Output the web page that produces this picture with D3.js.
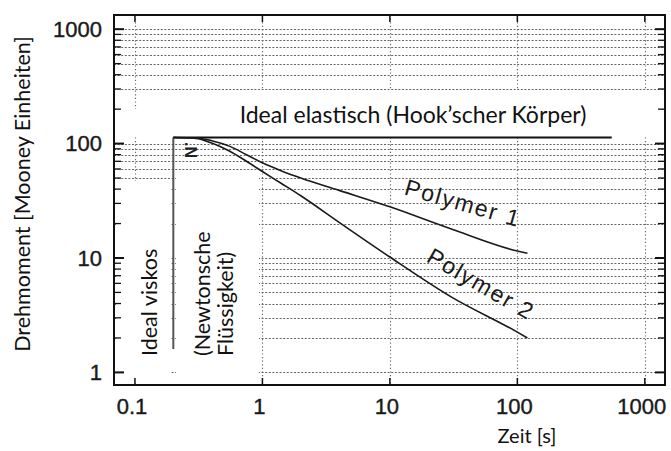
<!DOCTYPE html>
<html>
<head>
<meta charset="utf-8">
<script src="https://cdn.jsdelivr.net/npm/d3@7"></script>
<style>
  html, body { margin: 0; padding: 0; background: #fff; }
  svg { display: block; }
</style>
</head>
<body>
<svg id="chart" width="671" height="451"></svg>
<script>
// Time axis [s] and torque [Mooney units]
const zeit = [0.2, 0.3, 0.4, 0.55, 0.75, 1, 1.4, 2, 4, 10, 30, 100, 120];
const polymer1 = [113, 112, 106, 95, 80, 68, 58, 50, 39, 28, 18, 11.5, 11];
const polymer2 = [113, 111, 101, 86, 70, 57, 45, 35, 20.5, 10.2, 4.6, 2.25, 2.0];

// Limiting cases
const elastischZeit = [0.2, 550];
const elastischWert = [113, 113];
const viskosZeit = [0.2, 0.2];
const viskosWert = [113, 1.6];

const xTicks = [0.1, 1, 10, 100, 1000];
const yTicks = [1, 10, 100, 1000];
const xTickLabels = ["0.1", "1", "10", "100", "1000"];
const yTickLabels = ["1", "10", "100", "1000"];

const svg = d3.select("#chart");
const pLeft = 114, pRight = 665, pTop = 15, pBottom = 385;

const x = d3.scaleLog().domain([0.0685, 1440]).range([pLeft, pRight]);
const y = d3.scaleLog().domain([0.776, 1330]).range([pBottom, pTop]);

// horizontal grid values (1..10 per decade)
const yMinorUniq = [];
[1, 10, 100].forEach(d => { for (let k = (d === 1 ? 1 : 2); k <= 10; k++) yMinorUniq.push(d * k); });

const grid = svg.append("g").attr("stroke", "#666").attr("stroke-width", 1.15)
  .attr("stroke-dasharray", "2,1.6");
grid.selectAll("line.h").data(yMinorUniq).join("line")
  .attr("class", "h")
  .attr("x1", pLeft).attr("x2", pRight)
  .attr("y1", d => Math.round(y(d)) + 0.5).attr("y2", d => Math.round(y(d)) + 0.5);
grid.selectAll("line.v").data(xTicks).join("line")
  .attr("class", "v")
  .attr("stroke-dasharray", "1.2,2.4")
  .attr("x1", d => Math.round(x(d)) + 0.5).attr("x2", d => Math.round(x(d)) + 0.5)
  .attr("y1", pTop).attr("y2", pBottom);

// blank areas behind the annotations
const blanks = [
  [215, 90, 660, 136],
  [116, 109, 215, 136],
  [116, 181, 171, 383],
  [176, 170, 259, 383]
];
svg.append("g").selectAll("rect").data(blanks).join("rect")
  .attr("x", d => d[0]).attr("y", d => d[1])
  .attr("width", d => d[2] - d[0]).attr("height", d => d[3] - d[1])
  .attr("fill", "#fff");

// frame
svg.append("rect").attr("x", pLeft).attr("y", pTop)
  .attr("width", pRight - pLeft).attr("height", pBottom - pTop)
  .attr("fill", "none").attr("stroke", "#111").attr("stroke-width", 2);

// inward ticks on all sides
const tk = svg.append("g").attr("stroke", "#111");
tk.selectAll("line.l").data(yMinorUniq).join("line").attr("class", "l")
  .attr("x1", pLeft).attr("x2", d => pLeft + (yTicks.includes(d) ? 10 : 7))
  .attr("y1", d => y(d)).attr("y2", d => y(d))
  .attr("stroke-width", d => yTicks.includes(d) ? 2 : 1.3);
tk.selectAll("line.r").data(yMinorUniq).join("line").attr("class", "r")
  .attr("x1", pRight).attr("x2", d => pRight - (yTicks.includes(d) ? 10 : 7))
  .attr("y1", d => y(d)).attr("y2", d => y(d))
  .attr("stroke-width", d => yTicks.includes(d) ? 2 : 1.3);
tk.selectAll("line.b").data(xTicks).join("line").attr("class", "b")
  .attr("x1", d => x(d)).attr("x2", d => x(d))
  .attr("y1", pBottom).attr("y2", pBottom - 7).attr("stroke-width", 1.5);
tk.selectAll("line.t").data(xTicks).join("line").attr("class", "t")
  .attr("x1", d => x(d)).attr("x2", d => x(d))
  .attr("y1", pTop).attr("y2", pTop + 7).attr("stroke-width", 1.5);

// tick labels
const numFont = "Liberation Sans, Arial, sans-serif";
svg.append("g").selectAll("text").data(yTicks).join("text")
  .attr("x", 102).attr("y", d => y(d)).attr("dy", "0.36em")
  .attr("text-anchor", "end")
  .attr("font-family", numFont).attr("font-size", 22)
  .attr("fill", "#1a1a1a").attr("stroke", "#1a1a1a").attr("stroke-width", 0.4)
  .text((d, i) => yTickLabels[i]);
svg.append("g").selectAll("text").data(xTicks).join("text")
  .attr("x", d => x(d) - 3).attr("y", 414)
  .attr("text-anchor", "middle")
  .attr("font-family", numFont).attr("font-size", 22)
  .attr("fill", "#1a1a1a").attr("stroke", "#1a1a1a").attr("stroke-width", 0.4)
  .text((d, i) => xTickLabels[i]);

// curves
const line = d3.line().x(d => x(d[0])).y(d => y(d[1])).curve(d3.curveMonotoneX);
svg.append("path").datum(elastischZeit.map((t, i) => [t, elastischWert[i]]))
  .attr("d", line).attr("fill", "none").attr("stroke", "#111").attr("stroke-width", 1.8);
svg.append("path").datum(viskosZeit.map((t, i) => [t, viskosWert[i]]))
  .attr("d", d3.line().x(d => x(d[0])).y(d => y(d[1])))
  .attr("fill", "none").attr("stroke", "#555").attr("stroke-width", 2);
svg.append("path").datum(zeit.map((t, i) => [t, polymer1[i]]))
  .attr("d", line).attr("fill", "none").attr("stroke", "#1a1a1a").attr("stroke-width", 1.6);
svg.append("path").datum(zeit.map((t, i) => [t, polymer2[i]]))
  .attr("d", line).attr("fill", "none").attr("stroke", "#1a1a1a").attr("stroke-width", 1.6);

// annotations
const sans = "Lato, 'Open Sans', sans-serif";
svg.append("text").attr("x", 413).attr("y", 123).attr("text-anchor", "middle")
  .attr("font-family", sans).attr("font-size", 23).attr("fill", "#111")
  .text("Ideal elastisch (Hook\u2019scher Körper)");

const vlab = [["Ideal viskos", 157], ["(Newtonsche", 210], ["Flüssigkeit)", 233]];
svg.append("g").selectAll("text").data(vlab).join("text")
  .attr("transform", d => `translate(${d[1]},356) rotate(-90)`)
  .attr("font-family", sans).attr("font-size", 21.5).attr("fill", "#111")
  .text(d => d[0]);

svg.append("text").attr("transform", "translate(185,142) rotate(90)")
  .attr("font-family", numFont).attr("font-weight", "bold")
  .attr("font-size", 16).attr("fill", "#222").text(".N");

svg.append("text").attr("transform", "translate(463,203) rotate(16)")
  .attr("text-anchor", "middle").attr("dy", "0.35em")
  .attr("font-family", numFont).attr("font-size", 23)
  .attr("letter-spacing", 1.8).attr("fill", "#1a1a1a")
  .text("Polymer 1");
svg.append("text").attr("transform", "translate(481,284) rotate(30)")
  .attr("text-anchor", "middle").attr("dy", "0.35em")
  .attr("font-family", numFont).attr("font-size", 23)
  .attr("letter-spacing", 1.8).attr("fill", "#1a1a1a")
  .text("Polymer 2");

// axis titles
svg.append("text").attr("x", 527).attr("y", 443).attr("text-anchor", "middle")
  .attr("font-family", sans).attr("font-size", 20).attr("fill", "#111")
  .text("Zeit [s]");
svg.append("text").attr("transform", "translate(30,194) rotate(-90)")
  .attr("text-anchor", "middle")
  .attr("font-family", sans).attr("font-size", 21.5).attr("fill", "#111")
  .text("Drehmoment [Mooney Einheiten]");
</script>
</body>
</html>
